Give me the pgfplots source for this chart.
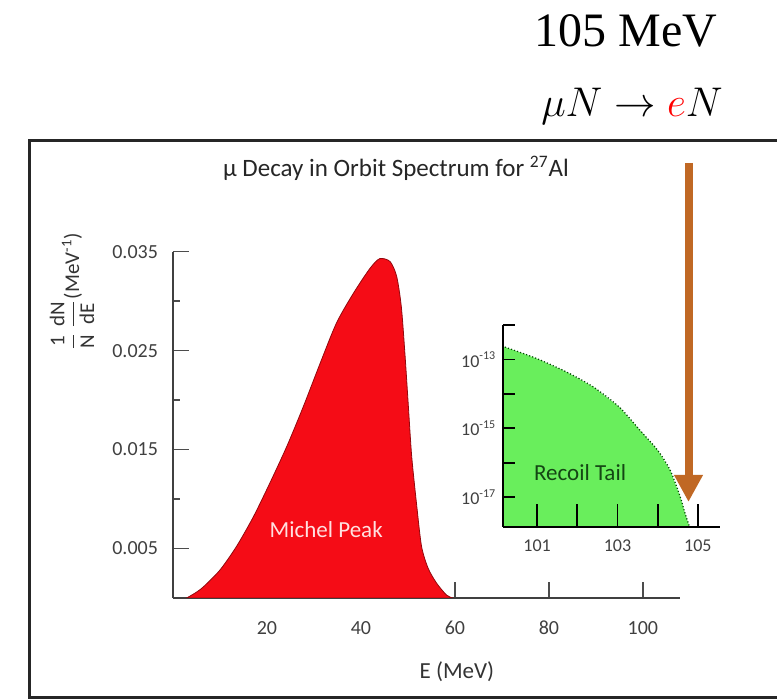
\documentclass[border=0pt]{standalone}
\usepackage{fontspec}
\setmainfont{Carlito}
\newfontfamily\timesf{Liberation Serif}
\usepackage{amsmath}
\usepackage{pgfplots}
\pgfplotsset{compat=1.18}
\usetikzlibrary{arrows.meta}
\definecolor{michel}{RGB}{245,12,22}
\definecolor{recoil}{RGB}{105,238,92}
\definecolor{arrowc}{RGB}{192,104,36}
\definecolor{tailtext}{RGB}{20,70,20}

\begin{document}
\begin{tikzpicture}
\useasboundingbox (0,0) rectangle (388.5pt,350pt);

% main spectrum
\begin{axis}[
  at={(86.5pt,51pt)}, anchor=south west,
  scale only axis, width=253.5pt, height=173.15pt,
  xmin=0, xmax=107.9, ymin=0, ymax=0.035,
  axis lines=left,
  axis line style={-, black!75, line width=0.9pt},
  tick align=inside,
  major tick length=8pt, minor tick length=3.5pt,
  tick style={black!70, line width=0.8pt},
  scaled y ticks=false,
  xtick={20,40,60,80,100}, xticklabels={20,40,60,80,100},
  ytick={0.005,0.015,0.025,0.035}, yticklabels={0.005,0.015,0.025,0.035},
  minor ytick={0.01,0.02,0.03},
  ticklabel style={font=\fontsize{10}{12}\selectfont, text=black!75},
  xticklabel style={yshift=-8pt},
  yticklabel style={xshift=-4pt},
  xlabel={E (MeV)},
  xlabel style={at={(axis description cs:0.56,-0.2137)}, anchor=center,
    font=\fontsize{11.5}{13}\selectfont, text=black!80},
  ylabel={$\displaystyle\frac{\text{1}}{\text{N}}\,\frac{\text{dN}}{\text{dE}}$(MeV\textsuperscript{-1})},
  ylabel style={at={(axis description cs:-0.199,0.884)}, anchor=center,
    font=\fontsize{10.5}{12}\selectfont, text=black!80},
]
\addplot[draw=michel!60!black, line width=0.4pt, fill=michel, smooth, tension=0.45]
  coordinates {
  (2.9,0) (4.7,0.0005) (6.5,0.00114) (10,0.00283) (13.5,0.0052) (17.1,0.0082)
  (20.6,0.0116) (24.2,0.0153) (27.7,0.0193) (31.3,0.0237) (34.8,0.0278)
  (38.4,0.0308) (41.9,0.0333) (44,0.0343) (46.2,0.0340) (47.6,0.0325)
  (48.6,0.0294) (49.4,0.0244) (50.1,0.0193) (50.8,0.0143) (51.9,0.0092)
  (52.9,0.0052) (54.3,0.0030) (56.1,0.0015) (58.2,0.0003) (59.5,0)
  } \closedcycle;
\node[text=white!88!red, font=\fontsize{11.5}{13}\selectfont] at (axis cs:32.6,0.0069) {Michel Peak};
\end{axis}

% recoil tail inset
\begin{axis}[
  at={(251.65pt,86.65pt)}, anchor=south west,
  scale only axis, width=108.35pt, height=100.85pt,
  xmin=100.16, xmax=105.55, ymode=log, ymin=1.38e-18, ymax=1e-12,
  axis lines=left, axis line style={-, black, line width=1pt},
  axis on top,
  tick align=inside, tick style={black, line width=0.9pt},
  major tick length=6pt, minor tick length=0pt,
  xtick style={/pgfplots/major tick length=11.5pt},
  xtick={101,102,103,104,105}, xticklabels={101,,103,,105},
  ytick={1e-17,1e-16,1e-15,1e-14,1e-13,1e-12},
  yticklabels={10\textsuperscript{-17},,10\textsuperscript{-15},,10\textsuperscript{-13},},
  ticklabel style={font=\fontsize{9}{10}\selectfont, text=black!75},
  xticklabel style={yshift=-3pt},
]
\addplot[fill=recoil, draw=none] coordinates {
  (100.16,1e-19) (100.16,2.4e-13) (100.2,2.29e-13) (101,1.05e-13) (101.74,4.27e-14)
  (102.4,1.58e-14) (103.04,4.17e-15) (103.56,8.7e-16) (104.0,2.29e-16)
  (104.31,6.03e-17) (104.56,1.02e-17) (104.68,3.39e-18) (104.79,1.38e-18) (104.85,1e-19)
  } -- cycle;
\addplot[densely dotted, draw=green!30!black, line width=0.6pt, smooth] coordinates {
  (100.2,2.29e-13) (101,1.05e-13) (101.74,4.27e-14) (102.4,1.58e-14) (103.04,4.17e-15)
  (103.56,8.7e-16) (104.0,2.29e-16) (104.31,6.03e-17) (104.56,1.02e-17)
  (104.68,3.39e-18) (104.79,1.38e-18)
  };
\node[text=tailtext, font=\fontsize{11.5}{13}\selectfont] at (axis cs:102.07,5e-17) {Recoil Tail};
\end{axis}

% frame, arrow and headings (units of the reference's pixels)
\begin{scope}[x=0.5pt, y=-0.5pt, yshift=350pt]
\draw[black!85, line width=1.5pt] (777,140.7) -- (29,140.7) -- (29,698) -- (777,698);
\draw[arrowc, line width=4pt, -{Triangle[width=13.5pt,length=13.5pt]}] (688.5,163) -- (688.5,502);
\node[font=\timesf\fontsize{24}{28}\selectfont, anchor=base] at (626,47) {105 MeV};
\node[font=\fontsize{22}{26}\selectfont, anchor=base] at (632,117) {$\mu N \rightarrow {\color{red}e}N$};
\node[font=\fontsize{12.5}{14}\selectfont, text=black!85] at (396,168) {μ Decay in Orbit Spectrum for \textsuperscript{27}Al};
\end{scope}
\end{tikzpicture}
\end{document}
